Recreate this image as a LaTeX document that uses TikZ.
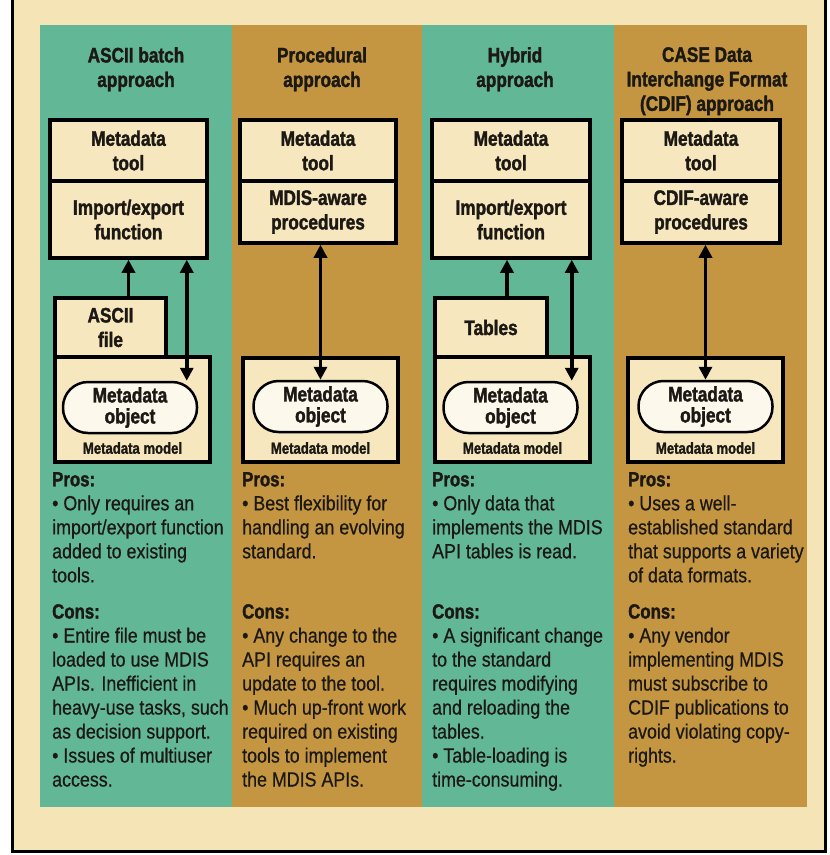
\documentclass[tikz,border=0pt]{standalone}
\usepackage{fontspec}
\setmainfont{Liberation Sans}[FakeStretch=0.87, FakeBold=0.6]
\newfontfamily\hdfont{Liberation Sans}[FakeStretch=0.82, FakeBold=1.6]
\usetikzlibrary{arrows.meta,calc}
\definecolor{tealbg}{RGB}{98,184,150}
\definecolor{goldbg}{RGB}{196,150,66}
\definecolor{creambg}{RGB}{244,228,182}
\definecolor{boxfill}{RGB}{246,231,190}
\definecolor{objfill}{RGB}{252,248,236}
\definecolor{ink}{RGB}{28,24,20}
\begin{document}
\begin{tikzpicture}[x=1pt,y=-1pt,
  boxA/.style={draw=black, line width=3.5pt, fill=boxfill, inner sep=0pt, align=center, text=ink,
    font=\hdfont\bfseries\fontsize{21}{24.5}\selectfont},
  obj/.style={draw=black, line width=2.5pt, fill=objfill, rounded corners=25pt, inner sep=0pt,
    minimum width=134pt, minimum height=51pt, align=center, text=ink,
    font=\hdfont\bfseries\fontsize{21}{21}\selectfont},
  lbl/.style={inner sep=0pt, text=ink, font=\hdfont\bfseries\fontsize{16}{18}\selectfont},
  ttl/.style={anchor=north, inner sep=0pt, align=center, text=ink,
    font=\hdfont\bfseries\fontsize{21}{24.5}\selectfont},
  body/.style={anchor=north west, inner sep=0pt, align=left, text=ink,
    font=\fontsize{20.5}{24}\selectfont},
  arr/.style={line width=3.5pt, -{Triangle[width=13pt,length=13pt]}},
  darr/.style={line width=3.5pt, {Triangle[width=13pt,length=13pt]}-{Triangle[width=13pt,length=13pt]}}
]
\newcommand{\hd}[1]{{\hdfont\bfseries #1}}
\useasboundingbox (0,0) rectangle (830,855);
\fill[white] (0,0) rectangle (830,855);
% frame
\draw[line width=3pt, fill=creambg] (12,-10) rectangle (825,851);
% column backgrounds
\fill[tealbg] (40,25) rectangle (232,807);
\fill[goldbg] (232,25) rectangle (422,807);
\fill[tealbg] (422,25) rectangle (614,807);
\fill[goldbg] (614,25) rectangle (807,807);

% titles
\node[ttl] (h1) at (136,47) {ASCII batch\\approach};
\node[ttl] (h2) at (322,47) {Procedural\\approach};
\node[ttl] (h3) at (515,47) {Hybrid\\approach};
\node[ttl] (h4) at (707,47) {CASE Data\\Interchange Format\\(CDIF) approach};

% column 1
\node[boxA, minimum width=157pt, minimum height=61pt] (t1) at (128.5,150.5) {Metadata\\tool};
\node[boxA, minimum width=157pt, minimum height=77pt] (f1) at (128.5,219.5) {Import/export\\function};
\node[boxA, minimum width=155pt, minimum height=105pt] (m1) at (132.5,409.5) {};
\node[boxA, minimum width=111pt, minimum height=59pt] (a1) at (110.5,327.5) {ASCII\\file};
\node[obj] (o1) at (130,407.5) {Metadata\\object};
\node[lbl, anchor=base] (l1) at ($(m1.south)+(0,-10)$) {Metadata model};
\draw[arr] (f1.south |- a1.north) -- (f1.south);
\coordinate (d1) at ($(f1.south east)+(-22,0)$);
\draw[darr] (d1) -- (d1 |- o1.north);

% column 2
\node[boxA, minimum width=156pt, minimum height=61pt] (t2) at (318,150.5) {Metadata\\tool};
\node[boxA, minimum width=156pt, minimum height=62pt] (p2) at (318,212) {MDIS-aware\\procedures};
\node[boxA, minimum width=155pt, minimum height=104pt] (m2) at (320.5,410) {};
\node[obj] (o2) at (320.5,406.5) {Metadata\\object};
\node[lbl, anchor=base] (l2) at ($(m2.south)+(0,-10)$) {Metadata model};
\draw[darr] (p2.south -| o2.north) -- (o2.north);

% column 3
\node[boxA, minimum width=158pt, minimum height=61pt] (t3) at (511,150.5) {Metadata\\tool};
\node[boxA, minimum width=158pt, minimum height=77pt] (f3) at (511,219.5) {Import/export\\function};
\node[boxA, minimum width=155pt, minimum height=105pt] (m3) at (512.5,409.5) {};
\node[boxA, minimum width=112pt, minimum height=59pt] (tb3) at (491,327.5) {Tables};
\node[obj] (o3) at (510.5,407.5) {Metadata\\object};
\node[lbl, anchor=base] (l3) at ($(m3.south)+(0,-10)$) {Metadata model};
\coordinate (u3) at ($(tb3.north)+(16,0)$);
\draw[arr] (u3) -- (u3 |- f3.south);
\coordinate (d3) at ($(f3.south east)+(-20,0)$);
\draw[darr] (d3) -- (d3 |- o3.north);

% column 4
\node[boxA, minimum width=158pt, minimum height=61pt] (t4) at (701,150.5) {Metadata\\tool};
\node[boxA, minimum width=158pt, minimum height=62pt] (p4) at (701,212) {CDIF-aware\\procedures};
\node[boxA, minimum width=155pt, minimum height=104pt] (m4) at (705.5,410) {};
\node[obj] (o4) at (705.5,406.5) {Metadata\\object};
\node[lbl, anchor=base] (l4) at ($(m4.south)+(0,-10)$) {Metadata model};
\draw[darr] (p4.south -| o4.north) -- (o4.north);

% pros / cons
\node[body] (pr1) at (52,472) {\hd{Pros:}\\• Only requires an\\import/export function\\added to existing\\tools.};
\node[body] (co1) at (52,604) {\hd{Cons:}\\• Entire file must be\\loaded to use MDIS\\APIs. Inefficient in\\heavy-use tasks, such\\as decision support.\\• Issues of multiuser\\access.};
\node[body] (pr2) at (242,472) {\hd{Pros:}\\• Best flexibility for\\handling an evolving\\standard.};
\node[body] (co2) at (242,604) {\hd{Cons:}\\• Any change to the\\API requires an\\update to the tool.\\• Much up-front work\\required on existing\\tools to implement\\the MDIS APIs.};
\node[body] (pr3) at (432,472) {\hd{Pros:}\\• Only data that\\implements the MDIS\\API tables is read.};
\node[body] (co3) at (432,604) {\hd{Cons:}\\• A significant change\\to the standard\\requires modifying\\and reloading the\\tables.\\• Table-loading is\\time-consuming.};
\node[body] (pr4) at (628,472) {\hd{Pros:}\\• Uses a well-\\established standard\\that supports a variety\\of data formats.};
\node[body] (co4) at (628,604) {\hd{Cons:}\\• Any vendor\\implementing MDIS\\must subscribe to\\CDIF publications to\\avoid violating copy-\\rights.};
\end{tikzpicture}
\end{document}
